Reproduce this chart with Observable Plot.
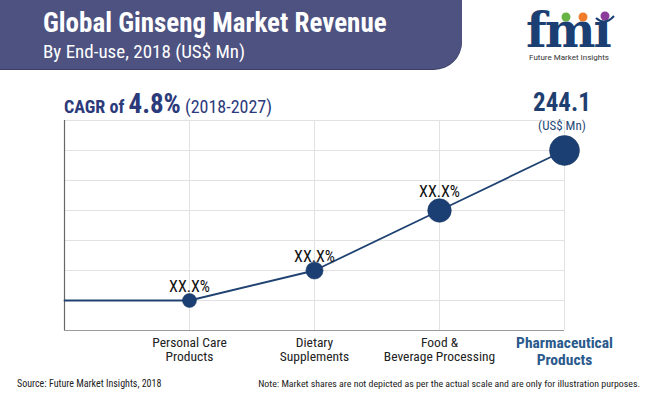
<!DOCTYPE html>
<html>
<head>
<meta charset="utf-8">
<script src="https://cdn.jsdelivr.net/npm/d3@7"></script>
<script src="https://cdn.jsdelivr.net/npm/@observablehq/plot@0.6"></script>
<style>
  html, body { margin: 0; padding: 0; background: #fff; overflow: hidden; }
  #wrap { position: relative; width: 650px; height: 399px; overflow: hidden; background: #fff;
    font-family: "Roboto Condensed", "Liberation Sans Narrow", "DejaVu Sans Condensed", Roboto, sans-serif; }
  #band { position: absolute; left: 0; top: 0; width: 462px; height: 69px; background: #4d5281;
    border-bottom-right-radius: 28px; box-shadow: 0 1px 0 #3b3f68; }
  .abs { position: absolute; white-space: nowrap; }
  #title { left: 43px; top: 7px; font-size: 27px; font-weight: bold; color: #fff; }
  #subtitle { left: 43px; top: 40px; font-size: 19px; color: #fff; }
  #cagr { left: 64px; top: 88px; color: #2b3a7a; }
  #total { left: 520px; top: 90px; width: 84px; text-align: center; color: #1f3f70; }
  #source { left: 17px; top: 378px; font-size: 10px; color: #222; }
  #note { right: 10px; top: 378px; font-size: 9.9px; color: #222; }
  #chart { position: absolute; left: 0; top: 0; line-height: 0; }
  #chart svg { display: block; }
  #logo { position: absolute; left: 515px; top: 0; }
</style>
</head>
<body>
<div id="wrap">
  <div id="band"></div>
  <div id="title" class="abs">Global Ginseng Market Revenue</div>
  <div id="subtitle" class="abs">By End-use, 2018 (US$ Mn)</div>
  <div id="chart"></div>
  <div id="cagr" class="abs"><span style="font-size:18px;font-weight:bold">CAGR of </span><span style="font-size:27px;font-weight:bold">4.8%</span><span style="font-size:18px"> (2018-2027)</span></div>
  <div id="total" class="abs"><div style="font-size:25px;font-weight:bold;line-height:26px">244.1</div><div style="font-size:13px;line-height:14px;margin-top:3px;color:#2a4a7a">(US$ Mn)</div></div>
  <div id="source" class="abs">Source: Future Market Insights, 2018</div>
  <div id="note" class="abs">Note: Market shares are not depicted as per the actual scale and are only for illustration purposes.</div>
  <svg id="logo" width="110" height="64" viewBox="0 0 110 64">
    <text x="11" y="47" font-family="DejaVu Serif" font-weight="bold" font-size="48" fill="#1b3f72" letter-spacing="-2">fmı</text>
    <circle cx="51" cy="17" r="4.5" fill="#67b345"/>
    <circle cx="68" cy="17" r="4.5" fill="#f07c2c"/>
    <circle cx="90" cy="16" r="4.5" fill="#8d3b9b"/>
    <path d="M81 18 Q90 26 99 16" fill="none" stroke="#1b3f72" stroke-width="2"/>
    <text x="54" y="60" text-anchor="middle" font-family="Roboto, sans-serif" font-size="8" fill="#333">Future Market Insights</text>
  </svg>
</div>
<script>
// Data (illustrative relative positions; values are not to scale per the chart note)
const categories = ["Personal Care\nProducts", "Dietary\nSupplements", "Food &\nBeverage Processing", "Pharmaceutical\nProducts"];
const levels = [1, 2, 4, 6];
const shareLabels = ["XX.X%", "XX.X%", "XX.X%", ""];
const yGridTicks = [1, 2, 3, 4, 5, 6, 7];

const points = categories.map((c, i) => ({pos: i + 1, level: levels[i], label: shareLabels[i], cat: c}));
const lineData = [{pos: 0, level: levels[0]}, ...points];

const font = `"Roboto Condensed", "Liberation Sans Narrow", "DejaVu Sans Condensed", Roboto, sans-serif`;

const chart = Plot.plot({
  width: 650,
  height: 399,
  marginLeft: 64,
  marginRight: 86,
  marginTop: 120,
  marginBottom: 69,
  style: {fontFamily: font, background: "transparent"},
  x: {domain: [0, 4], axis: null, label: null},
  y: {domain: [0, 7], axis: null, label: null},
  r: {type: "linear", domain: [1, 6], range: [7, 15]},
  marks: [
    Plot.gridY(yGridTicks, {stroke: "#e2e2e2", strokeOpacity: 1}),
    Plot.gridX([1, 2, 3, 4], {stroke: "#e2e2e2", strokeOpacity: 1}),
    Plot.ruleY([0], {stroke: "#9a9a9a", strokeWidth: 1.2}),
    Plot.ruleX([0], {stroke: "#666", strokeWidth: 1.2}),
    Plot.line(lineData, {x: "pos", y: "level", stroke: "#1f4272", strokeWidth: 1.8}),
    Plot.dot(points, {x: "pos", y: "level", r: "level", fill: "#1b3f72", stroke: "#163560", strokeWidth: 0.5}),
    Plot.text(points, {filter: d => d.pos < 3 && d.label, x: "pos", y: "level", text: "label", lineAnchor: "bottom", dy: -9, fontSize: 16, fill: "#111"}),
    Plot.text(points, {filter: d => d.pos === 3 && d.label, x: "pos", y: "level", text: "label", lineAnchor: "bottom", dy: -14, fontSize: 16, fill: "#111"}),
    Plot.axisX([1, 2, 3], {label: null, tickSize: 0, tickPadding: 6, tickFormat: i => categories[i - 1], fontSize: 13.5, lineHeight: 1.05, fill: "#222"}),
    Plot.axisX([4], {label: null, tickSize: 0, tickPadding: 5, tickFormat: i => categories[i - 1], fontSize: 15.5, fontWeight: "bold", lineHeight: 1.1, fill: "#2b5a8c"})
  ]
});
document.getElementById("chart").appendChild(chart);
</script>
</body>
</html>
